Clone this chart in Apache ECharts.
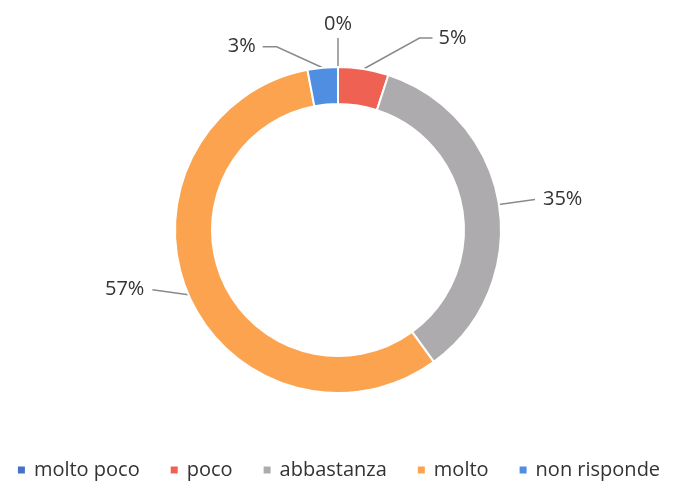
<!DOCTYPE html>
<html>
<head>
<meta charset="utf-8">
<script src="https://cdn.jsdelivr.net/npm/echarts@6/dist/echarts.min.js"></script>
<style>
  html, body { margin: 0; padding: 0; background: #ffffff; }
  #chart { width: 676px; height: 488px; }
</style>
</head>
<body>
<div id="chart"></div>
<script>
// Answer categories and their shares (percent)
const categories = ['molto poco', 'poco', 'abbastanza', 'molto', 'non risponde'];
const shares = [0, 5, 35, 57, 3];
const sliceColors = ['#4472c4', '#ef6253', '#aeabaf', '#fba34f', '#4f8ee0'];

// Leader-line shape for each label, relative to the slice anchor point:
// bend = elbow offset, tail = horizontal run after the elbow, gap = text offset
const leader = [
  { bend: [0, -29], tail: 0, gap: [0, -14], align: 'center' },
  { bend: [56, -31], tail: 13, gap: [6, 0], align: 'left' },
  { bend: [36, -5], tail: 0, gap: [8, 0], align: 'left' },
  { bend: [-36, -5], tail: 0, gap: [-8, 0], align: 'right' },
  { bend: [-46, -21], tail: -14, gap: [-7, 0], align: 'right' }
];

const chart = echarts.init(document.getElementById('chart'), null, { renderer: 'canvas' });

chart.setOption({
  backgroundColor: '#ffffff',
  animation: false,
  textStyle: { fontFamily: 'Open Sans' },
  legend: {
    data: categories,
    left: 'center',
    top: 455,
    icon: 'rect',
    itemWidth: 9,
    itemHeight: 9,
    itemGap: 29,
    textStyle: { fontFamily: 'Open Sans', fontSize: 20, color: '#333333', padding: [0, 0, 0, 3] }
  },
  series: [{
    type: 'pie',
    center: [338, 230],
    radius: [126, 163],
    startAngle: 90,
    clockwise: true,
    avoidLabelOverlap: false,
    itemStyle: { borderColor: '#ffffff', borderWidth: 2 },
    label: {
      show: true,
      position: 'outside',
      formatter: '{c}%',
      fontFamily: 'Open Sans',
      fontSize: 20,
      color: '#333333'
    },
    labelLine: {
      show: true,
      length: 10,
      length2: 10,
      lineStyle: { color: '#8a8a8a', width: 1.5 }
    },
    labelLayout: function (p) {
      const pts = p.labelLinePoints;
      if (!pts) return {};
      const a = pts[0];
      const l = leader[p.dataIndex];
      const elbow = [a[0] + l.bend[0], a[1] + l.bend[1]];
      const end = [elbow[0] + l.tail, elbow[1]];
      return {
        x: end[0] + l.gap[0],
        y: end[1] + l.gap[1],
        align: l.align,
        verticalAlign: 'middle',
        labelLinePoints: [a, elbow, end]
      };
    },
    emphasis: { disabled: true },
    data: categories.map(function (name, i) {
      return { name: name, value: shares[i], itemStyle: { color: sliceColors[i] } };
    })
  }]
});
</script>
</body>
</html>
